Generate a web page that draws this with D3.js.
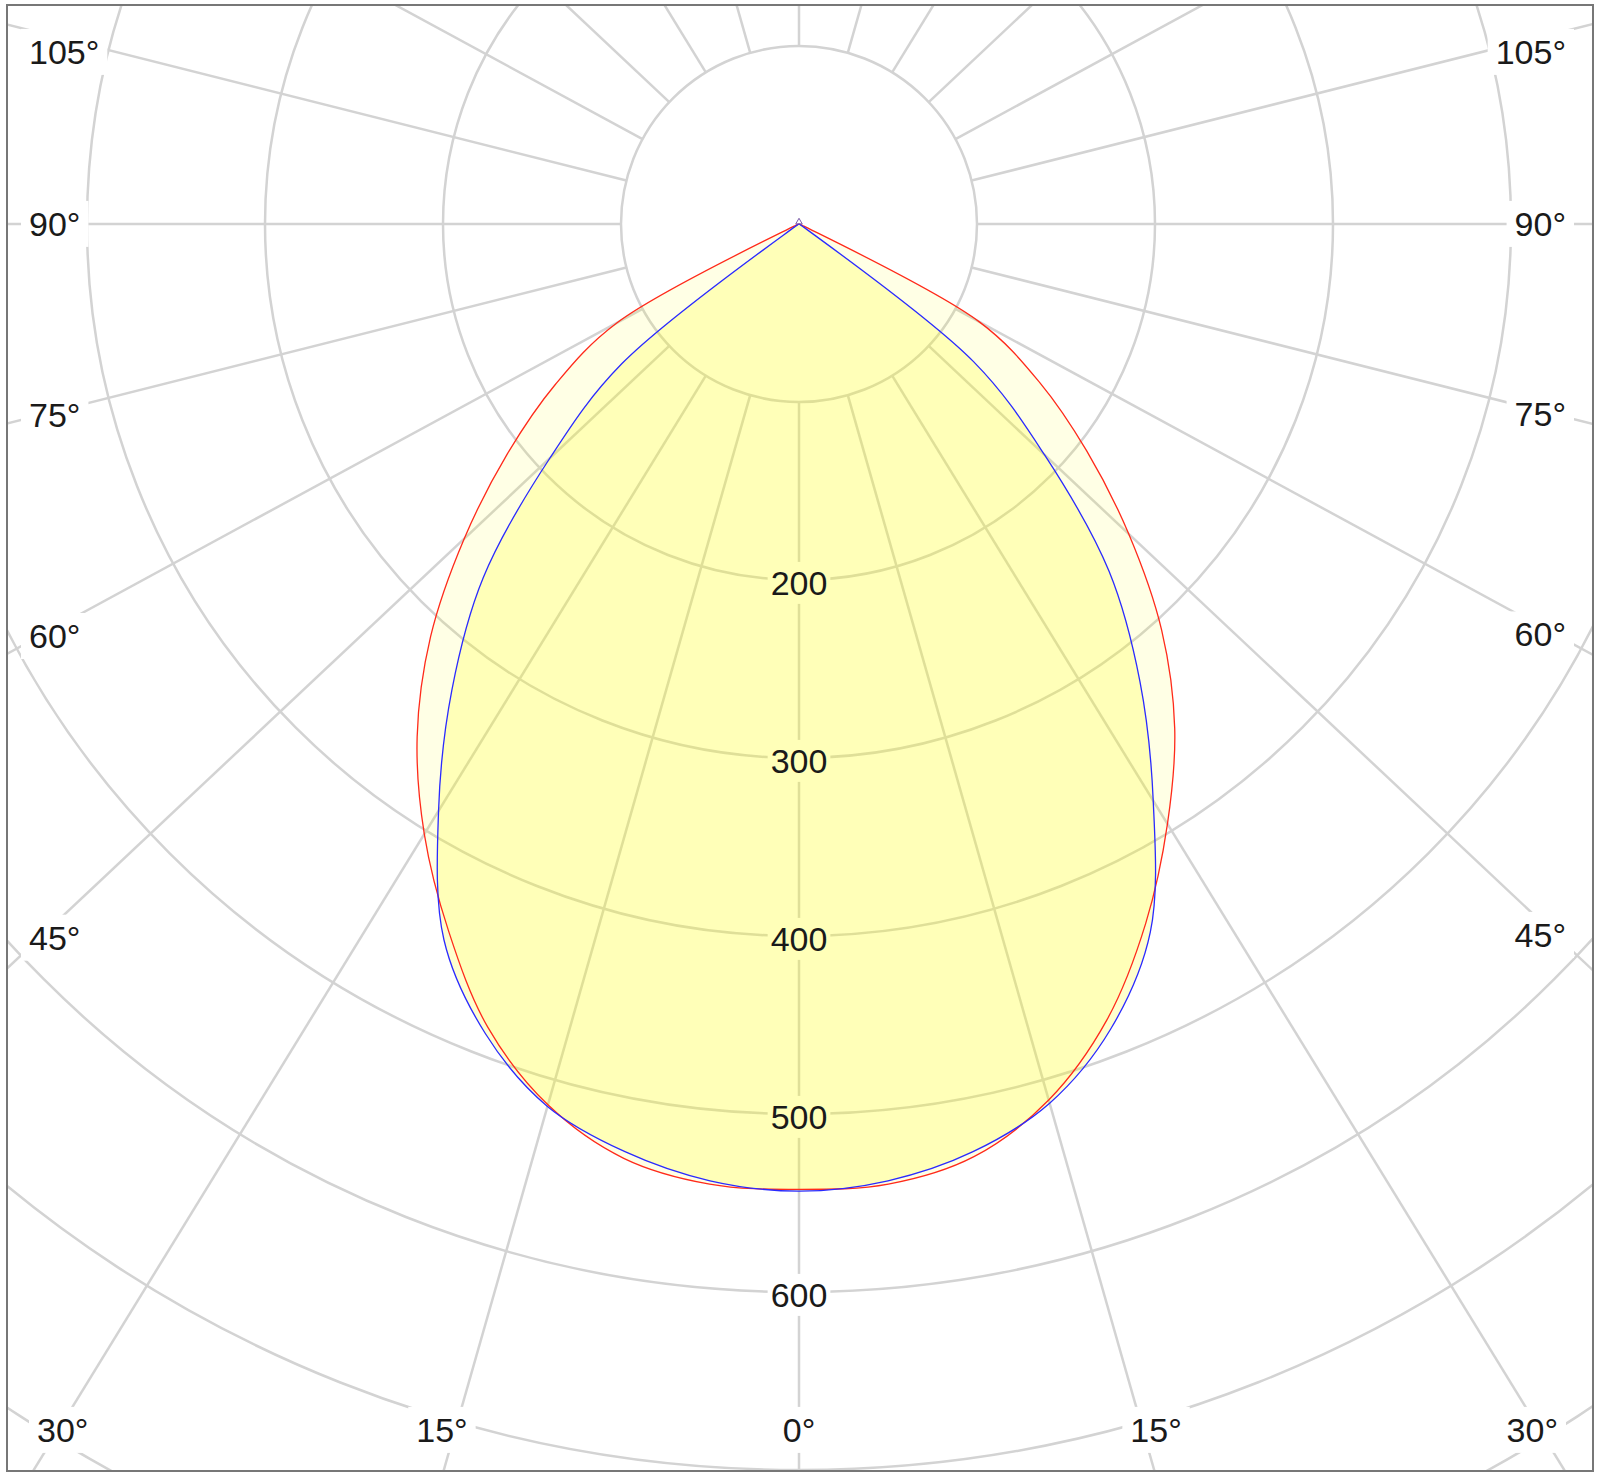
<!DOCTYPE html>
<html><head><meta charset="utf-8">
<script src="https://cdn.jsdelivr.net/npm/d3@7"></script>
<style>html,body{margin:0;padding:0;background:#fff;} svg{display:block;}</style>
</head><body>
<svg id="chart" width="1600" height="1480"></svg>
<script>
// ---- data ----
const angles         = [0, 5, 10, 15, 20, 25, 30, 35, 40, 45, 50, 55, 60, 65, 70, 75, 80, 85, 90];
const redLeftValues  = [577, 576, 567, 545, 511, 466, 421, 374, 322, 266, 214, 167, 118, 3, 1, 0, 0, 0, 0];
const redRightValues = [577, 576, 566, 542, 506, 461, 414, 368, 317, 262, 211, 165, 117, 3, 1, 0, 0, 0, 0];
const blueLeftValues = [578, 574, 563, 546, 515, 472, 405, 340, 276, 198, 130, 3, 1, 0, 0, 0, 0, 0, 0];
const blueRightValues= [578, 574, 563, 544, 512, 467, 398, 334, 271, 195, 128, 3, 1, 0, 0, 0, 0, 0, 0];
const ringValues  = [100, 200, 300, 400, 500, 600, 700, 800];
const ringLabels  = [200, 300, 400, 500, 600];
const spokeAngles = d3.range(0, 360, 15);
const angleLabels = [0, 15, 30, 45, 60, 75, 90, 105];

// ---- layout ----
const W = 1600, H = 1480;
const cx = 799, cy = 224;
const K = 0.94;              // vertical compression of the angular grid
const LK_SIDE = 0.927, LK_BOTTOM = 0.905;  // label placement along the spokes
const frame = {x: 7, y: 5, w: 1586, h: 1466};
const r = d3.scaleLinear().domain([0, 100]).range([0, 178]);
const toRad = d3.scaleLinear().domain([0, 180]).range([0, Math.PI]);

const svg = d3.select('#chart');
svg.append('rect').attr('width', W).attr('height', H).attr('fill', '#fff');
svg.append('clipPath').attr('id', 'clip').append('rect')
  .attr('x', frame.x).attr('y', frame.y).attr('width', frame.w).attr('height', frame.h);

const gGrid = svg.append('g').attr('clip-path', 'url(#clip)');
const gBox = svg.append('g');
const gFill = svg.append('g');
const gLine = svg.append('g');
const gText = svg.append('g');

function unitDir(deg, side, k) {
  const a = toRad(deg);
  const dx = side * Math.sin(a), dy = k * Math.cos(a);
  const n = Math.hypot(dx, dy);
  return [dx / n, dy / n];
}
function proj(deg, v, side) {
  const a = toRad(deg);
  return [cx + side * r(v) * Math.sin(a), cy + K * r(v) * Math.cos(a)];
}

// rings
gGrid.selectAll('circle.ring').data(ringValues).join('circle')
  .attr('class', 'ring').attr('cx', cx).attr('cy', cy).attr('r', d => r(d))
  .attr('fill', 'none').attr('stroke', '#d3d3d3').attr('stroke-width', 2.5);

// spokes
gGrid.selectAll('line.spoke').data(spokeAngles).join('line')
  .attr('class', 'spoke')
  .each(function(d) {
    const [ux, uy] = unitDir(d, -1, K);
    d3.select(this)
      .attr('x1', cx + ux * r(100)).attr('y1', cy + uy * r(100))
      .attr('x2', cx + ux * 3000).attr('y2', cy + uy * 3000);
  })
  .attr('stroke', '#d3d3d3').attr('stroke-width', 2.5);

// angle labels
const font = 'Liberation Sans, Arial, sans-serif';
const xL = 29, xR = 1566, yB = 1430, yT = 52;
const angleItems = [];
angleLabels.forEach(a => {
  if (a === 0) angleItems.push({a, side: 0});
  else { angleItems.push({a, side: -1}); angleItems.push({a, side: 1}); }
});
angleItems.forEach(it => {
  const [sx, sy] = it.side === 0 ? [0, 1] : unitDir(it.a, it.side, LK_SIDE);
  const [bx, by] = it.side === 0 ? [0, 1] : unitDir(it.a, it.side, LK_BOTTOM);
  let tX = Infinity, tY = Infinity;
  if (sx < 0) tX = (xL - cx) / sx; else if (sx > 0) tX = (xR - cx) / sx;
  if (sy > 0) tY = (yB - cy) / sy;
  const txt = gText.append('text').text(it.a + '°')
    .attr('font-family', font).attr('font-size', 34).attr('fill', '#1a1a1a')
    .attr('dy', '0.35em');
  if (tX < tY) {
    const y = Math.max(yT, Math.min(yB, cy + tX * sy));
    txt.attr('x', sx < 0 ? xL : xR).attr('y', y).attr('text-anchor', sx < 0 ? 'start' : 'end');
  } else {
    const tb = (yB - cy) / by;
    const w = txt.node().getComputedTextLength();
    const x = Math.max(xL + w / 2 + 8, Math.min(xR - w / 2 - 8, cx + tb * bx));
    txt.attr('x', x).attr('y', yB).attr('text-anchor', 'middle');
  }
  const b = txt.node().getBBox();
  gBox.append('rect').attr('x', b.x - 8).attr('y', b.y - 4).attr('width', b.width + 16)
    .attr('height', b.height + 8).attr('fill', '#fff');
});

// ring labels
ringLabels.forEach(v => {
  const txt = gText.append('text').text(v)
    .attr('x', cx).attr('y', cy + r(v) + 3).attr('dy', '0.35em')
    .attr('text-anchor', 'middle')
    .attr('font-family', font).attr('font-size', 34).attr('fill', '#1a1a1a');
  const b = txt.node().getBBox();
  gBox.append('rect').attr('x', b.x - 3).attr('y', b.y - 2).attr('width', b.width + 6)
    .attr('height', b.height + 4).attr('fill', '#fff');
});

// curves
function curvePoints(left, right) {
  const pts = [];
  for (let i = angles.length - 1; i >= 0; i--) pts.push(proj(angles[i], left[i], -1));
  for (let i = 1; i < angles.length; i++) pts.push(proj(angles[i], right[i], 1));
  return pts;
}
const line = d3.line().curve(d3.curveCatmullRom.alpha(0.5));
const series = [
  {left: redLeftValues, right: redRightValues, stroke: '#ff2a1a', fillOpacity: 0.10},
  {left: blueLeftValues, right: blueRightValues, stroke: '#2a2aff', fillOpacity: 0.195}
];
series.forEach(s => {
  gFill.append('path').attr('d', line(curvePoints(s.left, s.right)) + 'Z')
    .attr('fill', '#ffff00').attr('fill-opacity', s.fillOpacity);
});
series.forEach(s => {
  gLine.append('path').attr('d', line(curvePoints(s.left, s.right)))
    .attr('fill', 'none').attr('stroke', s.stroke).attr('stroke-width', 1.3);
});
// apex marker
gLine.append('path').attr('d', d3.symbol(d3.symbolTriangle, 18)())
  .attr('transform', `translate(${cx},${cy - 2})`)
  .attr('fill', 'none').attr('stroke', '#7a5aa8').attr('stroke-width', 1);

// frame
svg.append('rect').attr('x', frame.x).attr('y', frame.y).attr('width', frame.w).attr('height', frame.h)
  .attr('fill', 'none').attr('stroke', '#777').attr('stroke-width', 2);
</script>
</body></html>
